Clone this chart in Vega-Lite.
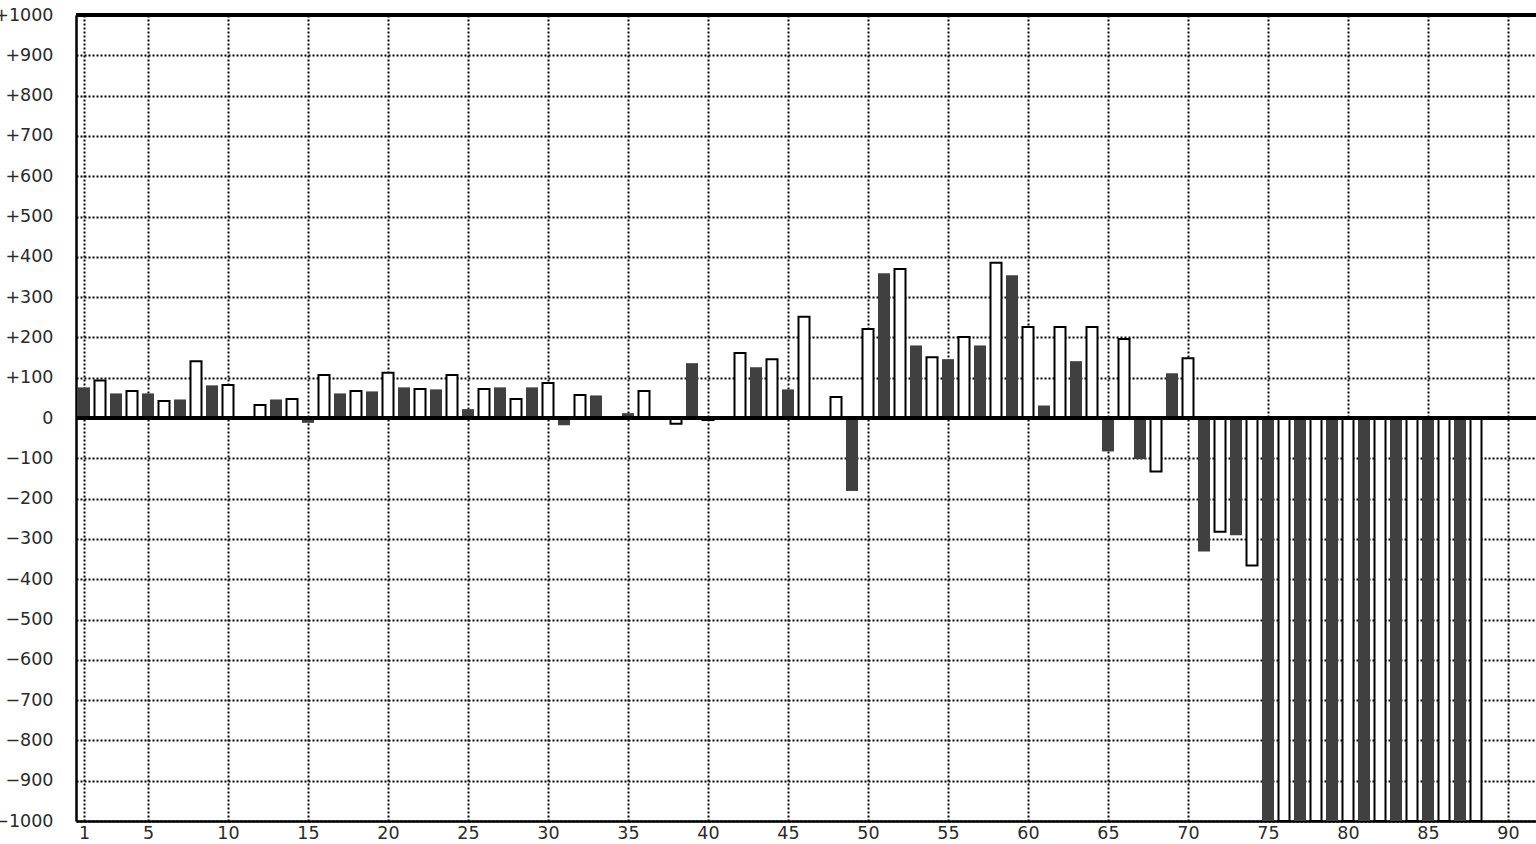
{
  "$schema": "https://vega.github.io/schema/vega-lite/v6.json",
  "width": 1460,
  "height": 806,
  "autosize": {"type": "none"},
  "padding": {"left": 76, "top": 15, "right": 0, "bottom": 23},
  "background": "white",
  "config": {
    "view": {"stroke": null},
    "font": "DejaVu Sans",
    "axis": {
      "domainColor": "black",
      "domainWidth": 2.5,
      "gridColor": "black",
      "gridWidth": 2,
      "gridDash": [2, 2],
      "gridOpacity": 1,
      "ticks": false,
      "labelFont": "DejaVu Sans",
      "labelFontSize": 17.5,
      "labelColor": "#2a2a2a",
      "title": null
    }
  },
  "data": {
    "values": [
      {"i": 1, "v": 76}, {"i": 2, "v": 93}, {"i": 3, "v": 61}, {"i": 4, "v": 67},
      {"i": 5, "v": 61}, {"i": 6, "v": 42}, {"i": 7, "v": 46}, {"i": 8, "v": 141},
      {"i": 9, "v": 81}, {"i": 10, "v": 82}, {"i": 11, "v": 0}, {"i": 12, "v": 32},
      {"i": 13, "v": 46}, {"i": 14, "v": 47}, {"i": 15, "v": -12}, {"i": 16, "v": 107},
      {"i": 17, "v": 61}, {"i": 18, "v": 67}, {"i": 19, "v": 66}, {"i": 20, "v": 112},
      {"i": 21, "v": 76}, {"i": 22, "v": 72}, {"i": 23, "v": 71}, {"i": 24, "v": 107},
      {"i": 25, "v": 22}, {"i": 26, "v": 72}, {"i": 27, "v": 76}, {"i": 28, "v": 47},
      {"i": 29, "v": 76}, {"i": 30, "v": 87}, {"i": 31, "v": -18}, {"i": 32, "v": 57},
      {"i": 33, "v": 56}, {"i": 34, "v": 0}, {"i": 35, "v": 12}, {"i": 36, "v": 67},
      {"i": 37, "v": 0}, {"i": 38, "v": -14}, {"i": 39, "v": 136}, {"i": 40, "v": -5},
      {"i": 41, "v": 0}, {"i": 42, "v": 161}, {"i": 43, "v": 126}, {"i": 44, "v": 146},
      {"i": 45, "v": 71}, {"i": 46, "v": 251}, {"i": 47, "v": 0}, {"i": 48, "v": 52},
      {"i": 49, "v": -181}, {"i": 50, "v": 221}, {"i": 51, "v": 359}, {"i": 52, "v": 370},
      {"i": 53, "v": 180}, {"i": 54, "v": 151}, {"i": 55, "v": 146}, {"i": 56, "v": 201},
      {"i": 57, "v": 180}, {"i": 58, "v": 385}, {"i": 59, "v": 354}, {"i": 60, "v": 226},
      {"i": 61, "v": 31}, {"i": 62, "v": 226}, {"i": 63, "v": 141}, {"i": 64, "v": 226},
      {"i": 65, "v": -83}, {"i": 66, "v": 196}, {"i": 67, "v": -102}, {"i": 68, "v": -133},
      {"i": 69, "v": 111}, {"i": 70, "v": 148}, {"i": 71, "v": -331}, {"i": 72, "v": -282},
      {"i": 73, "v": -291}, {"i": 74, "v": -366}, {"i": 75, "v": -1000}, {"i": 76, "v": -1000},
      {"i": 77, "v": -1000}, {"i": 78, "v": -1000}, {"i": 79, "v": -1000}, {"i": 80, "v": -1000},
      {"i": 81, "v": -1000}, {"i": 82, "v": -1000}, {"i": 83, "v": -1000}, {"i": 84, "v": -1000},
      {"i": 85, "v": -1000}, {"i": 86, "v": -1000}, {"i": 87, "v": -1000}, {"i": 88, "v": -1000}
    ]
  },
  "layer": [
    {
      "transform": [{"filter": "datum.i % 2 == 1"}],
      "mark": {"type": "bar", "fill": "#404040", "size": 12, "clip": true},
      "encoding": {
        "x": {
          "field": "i",
          "type": "quantitative",
          "scale": {"domain": [0.5, 91.75], "nice": false, "zero": false, "padding": 0},
          "axis": {
            "values": [1, 5, 10, 15, 20, 25, 30, 35, 40, 45, 50, 55, 60, 65, 70, 75, 80, 85, 90],
            "labelPadding": 3,
            "labelFlush": false,
            "labelOverlap": false
          }
        },
        "y": {
          "field": "v",
          "type": "quantitative",
          "scale": {"domain": [-1000, 1000], "nice": false, "padding": 0},
          "axis": {
            "values": [-1000, -900, -800, -700, -600, -500, -400, -300, -200, -100, 0, 100, 200, 300, 400, 500, 600, 700, 800, 900, 1000],
            "labelPadding": 23,
            "labelFlush": false,
            "labelOverlap": false,
            "labelExpr": "datum.value > 0 ? '+' + datum.value : (datum.value < 0 ? '\u2212' + abs(datum.value) : '0')"
          }
        }
      }
    },
    {
      "transform": [{"filter": "datum.i % 2 == 0"}],
      "mark": {"type": "bar", "fill": "white", "stroke": "black", "strokeWidth": 2, "size": 11, "clip": true},
      "encoding": {
        "x": {"field": "i", "type": "quantitative"},
        "y": {"field": "v", "type": "quantitative"}
      }
    },
    {
      "mark": {"type": "rule", "color": "black", "strokeWidth": 2.5},
      "encoding": {"y": {"datum": 0}}
    },
    {
      "mark": {"type": "rule", "color": "black", "strokeWidth": 2.5},
      "encoding": {"y": {"datum": 1000}}
    }
  ]
}
